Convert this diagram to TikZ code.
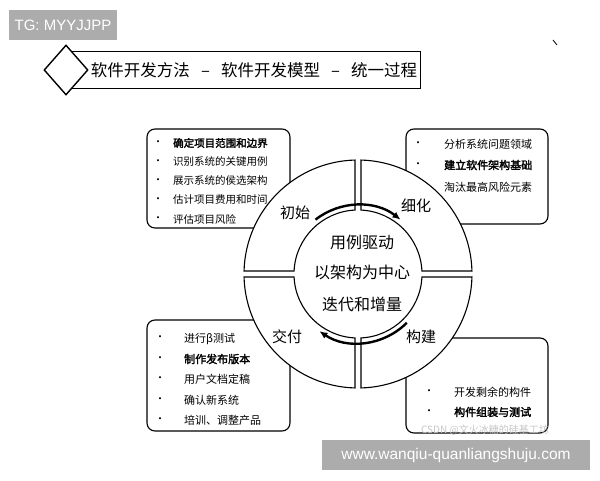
\documentclass[tikz,border=0pt]{standalone}
\usepackage{fontspec}
\usetikzlibrary{calc,arrows.meta,shapes.geometric}
\setmainfont{Noto Sans CJK SC}[AutoFakeBold=2.5]
\newfontfamily\lat{Liberation Sans}
\begin{document}
\begin{tikzpicture}[x=1pt,y=1pt,
  box/.style={draw,line width=1.1pt,rounded corners=8pt},
  itm/.style={anchor=west,font=\fontsize{11}{11}\selectfont,inner sep=0pt},
  bul/.style={font=\fontsize{10}{10}\selectfont,inner sep=0pt},
  ring/.style={draw,line width=1.1pt,fill=white},
  qlab/.style={font=\fontsize{15}{15}\selectfont},
  ctr/.style={font=\fontsize{16}{16}\selectfont},
  cyc/.style={line width=2.4pt,-{Latex[length=8pt,width=7pt]}}]
\useasboundingbox (0,0) rectangle (600,480);
% top labels
\fill[gray!65] (9,440) rectangle (117,470);
\node[text=white,font=\lat\fontsize{15}{15}\selectfont] (tg) at (63,455) {TG: MYYJJPP};
\draw[line width=0.8pt] (553,440) -- (557,435);
% title
\draw[line width=0.9pt] (68,392) rectangle (420,429);
\node[draw,line width=1.4pt,fill=white,diamond,minimum width=44pt,minimum height=50pt,inner sep=0pt,shape aspect=0.88] (dia) at (66,410) {};
\node[font=\fontsize{16.5}{16.5}\selectfont] (title) at (254,410) {软件开发方法\ \ \ –\ \ \ 软件开发模型\ \ \ –\ \ \ 统一过程};
% boxes
\draw[box] (147,351) rectangle (290,252);
\draw[box] (406,351) rectangle (548,256);
\draw[box] (147,160) rectangle (290,49);
\draw[box] (406,142) rectangle (548,47);
% ring
\def\cx{358}\def\cy{206}
\foreach \s in {0,90,180,270}{
  \path[ring] (\cx,\cy) ++(\s+1.5:114) arc[start angle=\s+1.5,end angle=\s+88.5,radius=114]
    -- ($(\cx,\cy)+(\s+87.3:64)$) arc[start angle=\s+87.3,end angle=\s+2.7,radius=64] -- cycle;
}
\draw[cyc] (\cx,\cy) ++(128:69) arc[start angle=128,end angle=52,radius=69];
\draw[cyc] (\cx,\cy) ++(-45:69) arc[start angle=-45,end angle=-124,radius=69];
\node[qlab] (q1) at (295,267) {初始};
\node[qlab] (q2) at (416,274) {细化};
\node[qlab] (q3) at (287,143) {交付};
\node[qlab] (q4) at (421,143) {构建};
\node[ctr] (c1) at (362,238) {用例驱动};
\node[ctr] (c2) at (362,208) {以架构为中心};
\node[ctr] (c3) at (362,176) {迭代和增量};
% top-left items
\foreach \t [count=\i] in {\textbf{确定项目范围和边界},识别系统的关键用例,展示系统的侯选架构,估计项目费用和时间,评估项目风险}{
  \node[bul] (tlb\i) at (158,356-19*\i) {•};
  \node[itm,font=\fontsize{10.5}{10.5}\selectfont] (tl\i) at (173,356-19*\i) {\t};
}
% top-right
\node[bul] (trb1) at (418,336) {•};
\node[itm] (tr1) at (444,336) {分析系统问题领域};
\node[bul] (trb2) at (418,315) {•};
\node[itm] (tr2) at (444,315) {\textbf{建立软件架构基础}};
\node[itm] (tr3) at (444,293) {淘汰最高风险元素};
% bottom-left
\foreach \t [count=\i] in {进行β测试,\textbf{制作发布版本},用户文档定稿,确认新系统,培训、调整产品}{
  \node[bul] (blb\i) at (160,162-20.5*\i) {•};
  \node[itm] (bl\i) at (184,162-20.5*\i) {\t};
}
% bottom-right
\node[bul] (brb1) at (429,88) {•};
\node[itm] (br1) at (454,88) {开发剩余的构件};
\node[bul] (brb2) at (429,68) {•};
\node[itm] (br2) at (454,68) {\textbf{构件组装与测试}};
\node[text=gray!45,font=\fontsize{10}{10}\selectfont] (wm) at (485,50) {CSDN @文火冰糖的硅基工坊};
% bottom banner
\fill[gray!65] (322,10) rectangle (590,40);
\node[text=white,font=\lat\fontsize{15.5}{15.5}\selectfont] (url) at (456,25) {www.wanqiu-quanliangshuju.com};
\end{tikzpicture}
\end{document}
